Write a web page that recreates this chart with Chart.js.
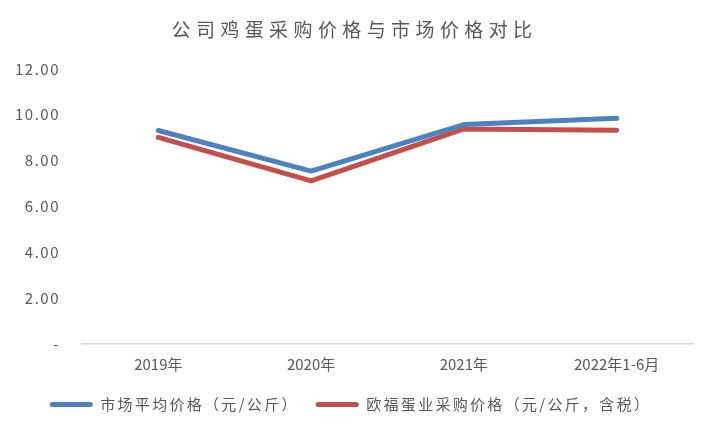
<!DOCTYPE html>
<html><head><meta charset="utf-8">
<script src="https://cdn.jsdelivr.net/npm/chart.js@4.4.0/dist/chart.umd.min.js"></script>
<style>html,body{margin:0;padding:0;background:#fff;}#wrap{width:709px;height:433px;}</style>
</head><body><div id="wrap"><canvas id="c" width="709" height="433"></canvas></div>
<script>
const categories = ['2019年', '2020年', '2021年', '2022年1-6月'];
const marketPrice = [9.31, 7.54, 9.57, 9.84];
const purchasePrice = [9.01, 7.11, 9.38, 9.32];
const yTicks = [0, 2, 4, 6, 8, 10, 12];
const seriesNames = ['市场平均价格（元/公斤）', '欧福蛋业采购价格（元/公斤，含税）'];
const FONT = '"Noto Sans CJK SC", "Noto Sans", sans-serif';

function withSpacing(obj, name, sp, dx, dy) {
  const orig = obj[name];
  obj[name] = function () {
    const ctx = this.ctx || this.chart.ctx;
    ctx.save();
    ctx.letterSpacing = sp;
    if (dx || dy) ctx.translate(dx || 0, dy || 0);
    try { return orig.apply(this, arguments); } finally { ctx.restore(); }
  };
}
const spacingPlugin = {
  id: 'spacing',
  afterInit(chart) {
    if (chart.titleBlock) withSpacing(chart.titleBlock, 'draw', '5.4px', 8, -1);
    if (chart.legend) { withSpacing(chart.legend, 'fit', '2.3px'); withSpacing(chart.legend, 'draw', '2.3px', 4, -4); }
  }
};
const LP = Chart.LinearScale.prototype;
const origDrawLabels = LP.drawLabels;
LP.drawLabels = function (a) {
  const prev = this.ctx.letterSpacing;
  this.ctx.letterSpacing = '1.5px';
  origDrawLabels.call(this, a);
  this.ctx.letterSpacing = prev;
};

new Chart(document.getElementById('c'), {
  type: 'line',
  data: {
    labels: categories,
    datasets: [
      {label: seriesNames[0], data: marketPrice, borderColor: '#4f81bd', backgroundColor: '#4f81bd', borderWidth: 5, pointRadius: 0, tension: 0, borderCapStyle: 'round', borderJoinStyle: 'round'},
      {label: seriesNames[1], data: purchasePrice, borderColor: '#c0504d', backgroundColor: '#c0504d', borderWidth: 5, pointRadius: 0, tension: 0, borderCapStyle: 'round', borderJoinStyle: 'round'}
    ]
  },
  plugins: [spacingPlugin],
  options: {
    responsive: false, animation: false, devicePixelRatio: 1,
    layout: {padding: {left: 0, right: 16, top: 0, bottom: 7}},
    plugins: {
      title: {display: true, text: '公司鸡蛋采购价格与市场价格对比', color: '#595959', font: {family: FONT, size: 19, weight: 'normal'}, padding: {top: 19, bottom: 27}},
      legend: {position: 'bottom', labels: {color: '#595959', font: {family: FONT, size: 15}, boxWidth: 43, boxHeight: 5, padding: 17,
        generateLabels(chart){ return chart.data.datasets.map((d,i)=>({text: d.label, fillStyle: d.borderColor, strokeStyle: d.borderColor, lineWidth: 0, borderRadius: 2.5, datasetIndex: i, fontColor: '#595959'})); }}},
      tooltip: {enabled: false}
    },
    scales: {
      x: {offset: true, grid: {display: false, drawTicks: false}, border: {display: true, color: '#d9d9d9', width: 1.5},
          ticks: {color: '#595959', font: {family: FONT, size: 15}, padding: 11, maxRotation: 0}},
      y: {min: 0, max: 12, grid: {display: false, drawTicks: false}, border: {display: false},
          afterBuildTicks(s){ s.ticks = yTicks.map(v=>({value: v})); },
          afterFit(s){ s.width = 82; },
          ticks: {color: '#595959', font: {family: FONT, size: 15}, padding: 22, callback: v => v === 0 ? '-' : v.toFixed(2)}}
    }
  }
});
</script></body></html>
